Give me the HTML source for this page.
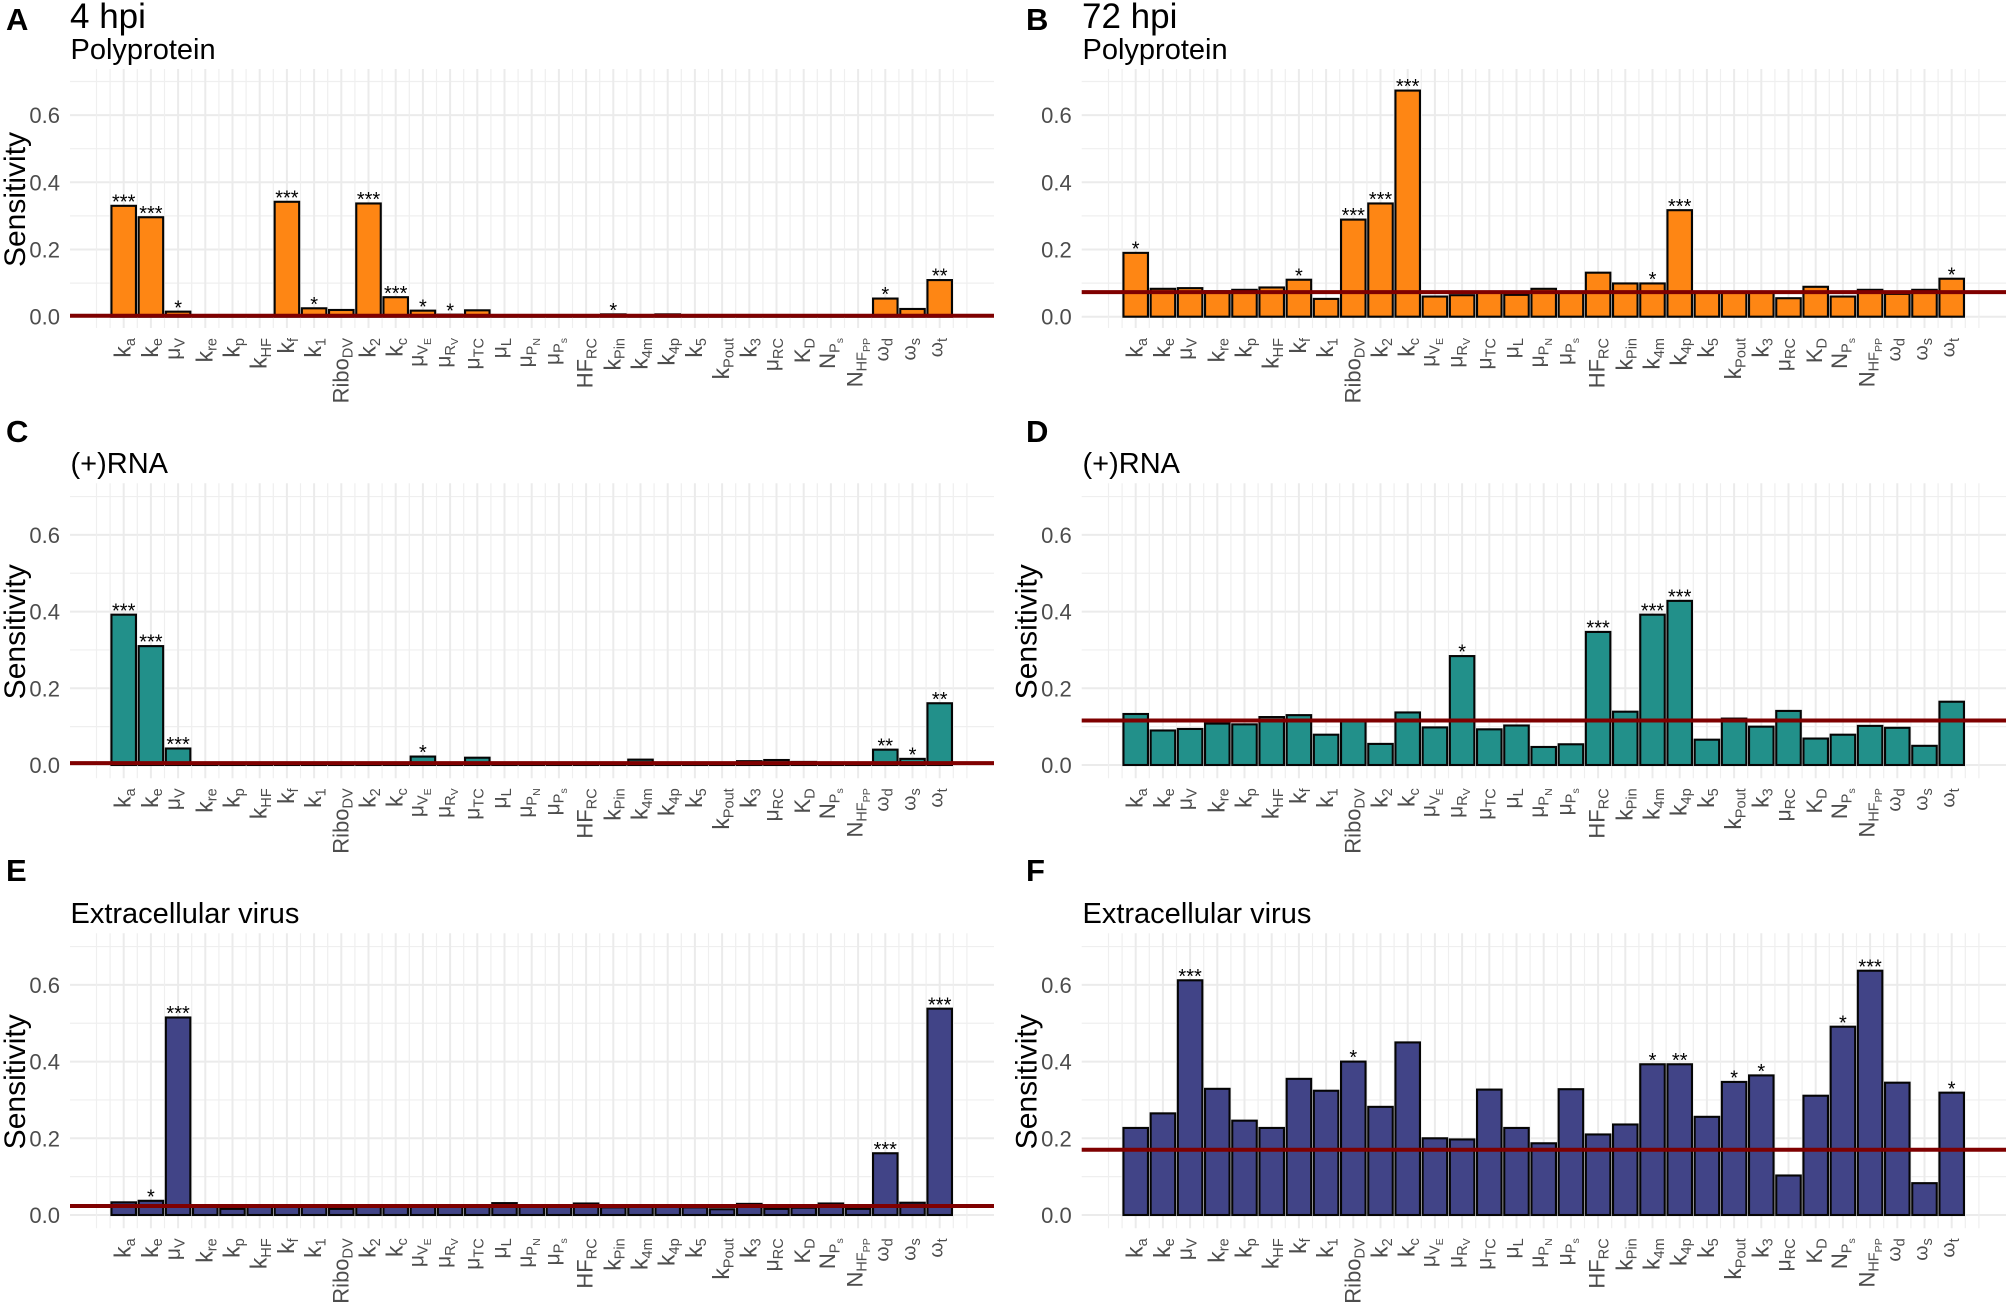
<!DOCTYPE html>
<html lang="en">
<head>
<meta charset="utf-8">
<title>Sensitivity at 4 hpi and 72 hpi</title>
<style>
html,body{margin:0;padding:0;background:#fff;}
svg{display:block;font-family:"Liberation Sans",sans-serif;}
</style>
</head>
<body>
<svg id="figure" xmlns="http://www.w3.org/2000/svg" width="2008" height="1305" viewBox="0 0 2008 1305">
  <rect width="2008" height="1305" fill="#fff"/>
  <g id="panels"></g>
  <g fill="#000">
    <text x="6" y="30" font-size="31" font-weight="bold">A</text>
    <text x="1026" y="30" font-size="31" font-weight="bold">B</text>
    <text x="6" y="442" font-size="31" font-weight="bold">C</text>
    <text x="1026" y="442" font-size="31" font-weight="bold">D</text>
    <text x="6" y="881" font-size="31" font-weight="bold">E</text>
    <text x="1026" y="881" font-size="31" font-weight="bold">F</text>
    <text x="70" y="28" font-size="35">4 hpi</text>
    <text x="1082" y="28" font-size="35">72 hpi</text>
    <text x="70.5" y="59" font-size="29">Polyprotein</text>
    <text x="1082.5" y="59" font-size="29">Polyprotein</text>
    <text x="70.5" y="473" font-size="29">(+)RNA</text>
    <text x="1082.5" y="473" font-size="29">(+)RNA</text>
    <text x="70.5" y="923" font-size="29">Extracellular virus</text>
    <text x="1082.5" y="923" font-size="29">Extracellular virus</text>
  </g>
</svg>
<script>
// ---- data ----
const categories = ["k|a","k|e","μ|V","k|re","k|p","k|HF","k|f","k|1","Ribo|DV","k|2","k|c","μ|V|E","μ|R|V","μ|TC","μ|L","μ|P|N","μ|P|s","HF|RC","k|Pin","k|4m","k|4p","k|5","k|Pout","k|3","μ|RC","K|D","N|P|s","N|HF|PP","ω|d","ω|s","ω|t"];
const majorTicks = [0, 0.2, 0.4, 0.6];
const minorTicks = [0.1, 0.3, 0.5, 0.7];
const tickLabels = ["0.0", "0.2", "0.4", "0.6"];

const valuesA = [0.330,0.296,0.015,0.001,0.001,0.004,0.342,0.025,0.020,0.337,0.058,0.018,0.006,0.019,0.002,0.001,0.001,0.001,0.007,0.002,0.007,0.002,0.002,0.002,0.002,0.002,0.002,0.002,0.054,0.023,0.109];
const starsA  = ["***","***","*","","","","***","*","","***","***","*","*","","","","","","*","","","","","","","","","","*","","**"];
const meanA = 0.003;

const valuesB = [0.190,0.083,0.085,0.076,0.080,0.087,0.110,0.053,0.289,0.337,0.673,0.060,0.064,0.072,0.065,0.083,0.075,0.131,0.099,0.099,0.317,0.073,0.074,0.074,0.055,0.089,0.060,0.080,0.068,0.080,0.113];
const starsB  = ["*","","","","","","*","","***","***","***","","","","","","","","","*","***","","","","","","","","","","*"];
const meanB = 0.073;

const valuesC = [0.392,0.310,0.043,0.002,0.002,0.002,0.002,0.002,0.002,0.002,0.002,0.022,0.003,0.019,0.003,0.002,0.002,0.002,0.003,0.014,0.004,0.002,0.003,0.010,0.013,0.008,0.002,0.002,0.040,0.016,0.161];
const starsC  = ["***","***","***","","","","","","","","","*","","","","","","","","","","","","","","","","","**","*","**"];
const meanC = 0.005;

const valuesD = [0.133,0.090,0.094,0.108,0.106,0.125,0.130,0.079,0.114,0.055,0.137,0.098,0.284,0.093,0.103,0.047,0.054,0.347,0.139,0.392,0.428,0.066,0.121,0.100,0.141,0.069,0.079,0.102,0.097,0.050,0.165];
const starsD  = ["","","","","","","","","","","","","*","","","","","***","","***","***","","","","","","","","","",""];
const meanD = 0.116;

const valuesE = [0.033,0.037,0.515,0.022,0.016,0.022,0.022,0.021,0.016,0.021,0.021,0.022,0.022,0.022,0.031,0.021,0.021,0.030,0.020,0.022,0.022,0.020,0.015,0.029,0.016,0.019,0.030,0.016,0.161,0.032,0.538];
const starsE  = ["","*","***","","","","","","","","","","","","","","","","","","","","","","","","","","***","","***"];
const meanE = 0.0235;

const valuesF = [0.227,0.265,0.612,0.329,0.246,0.227,0.355,0.324,0.400,0.282,0.450,0.200,0.197,0.327,0.227,0.187,0.328,0.210,0.236,0.393,0.393,0.256,0.347,0.364,0.103,0.311,0.491,0.637,0.345,0.083,0.319];
const starsF  = ["","","***","","","","","","*","","","","","","","","","","","*","**","","*","*","","","*","***","","","*"];
const meanF = 0.170;

// ---- layout ----
const NS = "http://www.w3.org/2000/svg";
const root = document.getElementById("panels");
const leftColumn = {first:123.7, plotLeft:70, plotRight:994, tickRight:60, titleX:25, hasTitle:true};
const rightColumn = {first:1135.7, plotLeft:1081.7, plotRight:2006, tickRight:1071.7, titleX:1036.7, hasTitle:true};
const topRow = {zero:316.7, unit:336, top:69, bottom:328};
const midRow = {zero:765, unit:383.5, top:483.3, bottom:778.3};
const lowRow = {zero:1215, unit:383.5, top:933.3, bottom:1228.3};
const STEP = 27.2, BAR_WIDTH = 24.5;

function make(tag, attrs, parent) {
  const el = document.createElementNS(NS, tag);
  for (const k in attrs) el.setAttribute(k, attrs[k]);
  parent.appendChild(el);
  return el;
}

function labelOffset(parts) {
  const c = parts[0][0];
  if (c === "N") return 4.3;
  if (c === "μ") return parts.length > 2 ? 0.5 : 2;
  if (c === "ω") return 3;
  if (c === "H" || c === "K") return 6.3;
  return 7;
}

function baseSize(c) {
  if (c === "μ") return 21;
  if (c === "ω") return 19.5;
  if (c === "k") return 23;
  return 22;
}

function drawPanel(id, col, row, values, stars, mean, showTitle) {
  const xAxis = i => col.first + i * STEP;
  const yAxis = v => row.zero - v * row.unit;

  const g = make("g", {}, root);
  
  

  // grid
  minorTicks.forEach(v => {
    const l = make("line", {x1:col.plotLeft, x2:col.plotRight, y1:yAxis(v), y2:yAxis(v), stroke:"#efefef", "stroke-width":1.2}, g);
    
    
  });
  majorTicks.forEach(v => {
    const l = make("line", {x1:col.plotLeft, x2:col.plotRight, y1:yAxis(v), y2:yAxis(v), stroke:"#ebebeb", "stroke-width":2}, g);
    
    
  });
  for (let k = -2; k <= categories.length * 2; k++) {
    const pos = xAxis(k / 2);
    const isMajor = k % 2 === 0 && k >= 0 && k < categories.length * 2;
    const l = make("line", {x1:pos, x2:pos, y1:row.top, y2:row.bottom, stroke:isMajor ? "#ebebeb" : "#efefef", "stroke-width":isMajor ? 2 : 1.2}, g);
    
    
  }

  // bars
  values.forEach((v, i) => {
    const y0 = yAxis(0), yv = yAxis(v);
    const b = make("rect", {x:xAxis(i) - BAR_WIDTH / 2, y:yv, width:BAR_WIDTH, height:Math.max(y0 - yv, 0), fill:row.fill, stroke:"#050505", "stroke-width":2.1}, g);
    
    
  });

  // mean line
  const m = make("line", {x1:col.plotLeft, x2:col.plotRight, y1:yAxis(mean), y2:yAxis(mean), stroke:"#7f0000", "stroke-width":4}, g);
  
  

  // significance stars
  stars.forEach((s, i) => {
    if (!s) return;
    const t = make("text", {x:xAxis(i), y:yAxis(values[i]) + 2.6, "text-anchor":"middle", "font-size":20, fill:"#000"}, g);
    t.textContent = s;
    
    
  });

  // y tick labels
  majorTicks.forEach((v, i) => {
    const t = make("text", {x:col.tickRight, y:yAxis(v) + 8, "text-anchor":"end", "font-size":22, fill:"#4d4d4d"}, g);
    t.textContent = tickLabels[i];
    
    
  });

  // y axis title
  if (showTitle) {
    const cy = (row.top + row.bottom) / 2 + 1;
    const t = make("text", {transform:"translate(" + col.titleX + " " + cy + ") rotate(-90)", "text-anchor":"middle", "font-size":30, fill:"#000"}, g);
    t.textContent = "Sensitivity";
    
    
  }

  // x tick labels
  categories.forEach((c, i) => {
    const parts = c.split("|");
    const px = xAxis(i) + labelOffset(parts);
    const py = row.bottom + 10;
    const t = make("text", {transform:"translate(" + px + " " + py + ") rotate(-90)", "text-anchor":"end", fill:"#4d4d4d"}, g);
    
    
    const s0 = make("tspan", {"font-size":baseSize(parts[0][0])}, t);
    s0.textContent = parts[0];
    const s1 = make("tspan", {"font-size":14.5, dy:4.3}, t);
    s1.textContent = parts[1];
    if (parts[2]) {
      const s2 = make("tspan", {"font-size":10.5, dy:3.3}, t);
      s2.textContent = parts[2];
    }
  });
}

const orange = "#fe8614", teal = "#22908a", navy = "#414487";
drawPanel("a", leftColumn, Object.assign({fill:orange}, topRow), valuesA, starsA, meanA, true);
drawPanel("b", rightColumn, Object.assign({fill:orange}, topRow), valuesB, starsB, meanB, false);
drawPanel("c", leftColumn, Object.assign({fill:teal}, midRow), valuesC, starsC, meanC, true);
drawPanel("d", rightColumn, Object.assign({fill:teal}, midRow), valuesD, starsD, meanD, true);
drawPanel("e", leftColumn, Object.assign({fill:navy}, lowRow), valuesE, starsE, meanE, true);
drawPanel("f", rightColumn, Object.assign({fill:navy}, lowRow), valuesF, starsF, meanF, true);
</script>
</body>
</html>
